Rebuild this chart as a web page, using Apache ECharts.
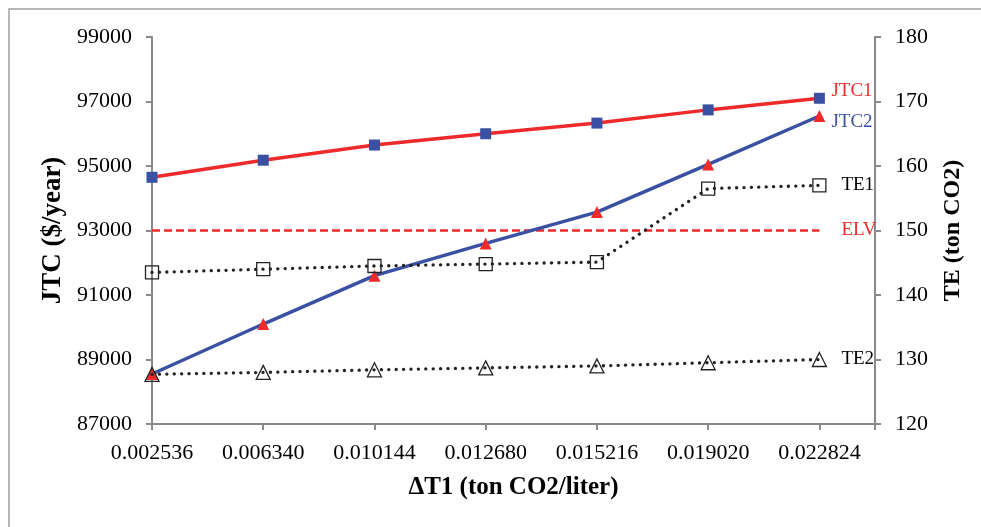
<!DOCTYPE html>
<html>
<head>
<meta charset="utf-8">
<script src="https://cdn.jsdelivr.net/npm/echarts@6/dist/echarts.min.js"></script>
<style>
  html, body { margin: 0; padding: 0; background: #fff; }
  #chart { width: 981px; height: 527px; }
</style>
</head>
<body>
<div id="chart"></div>
<script>
// ΔT1 values along the bottom axis
const categories = ['0.002536', '0.006340', '0.010144', '0.012680', '0.015216', '0.019020', '0.022824'];
// Joint total cost, $/year (left axis)
const jtc1 = [94650, 95180, 95650, 96000, 96330, 96740, 97100];
const jtc2 = [88550, 90100, 91600, 92600, 93570, 95050, 96550];
// Emission limit value, drawn on the left axis scale
const elv = [93000, 93000, 93000, 93000, 93000, 93000, 93000];
// Total emissions, ton CO2 (right axis)
const te1 = [143.5, 144.0, 144.5, 144.8, 145.1, 156.5, 157.0];
const te2 = [127.7, 128.0, 128.4, 128.7, 129.0, 129.5, 130.0];
// Axis ticks
const leftTicks = [87000, 89000, 91000, 93000, 95000, 97000, 99000];
const rightTicks = [120, 130, 140, 150, 160, 170, 180];

const RED = '#ee2a2a';
const BLUE = '#3a50a2';
const FONT = 'Liberation Serif';

const pairs = arr => arr.map((v, i) => [i, v]);

const chart = echarts.init(document.getElementById('chart'), null, { renderer: 'canvas' });

const axisLineStyle = { color: '#8a8a8e', width: 2 };

chart.setOption({
  backgroundColor: '#fff',
  animation: false,
  graphic: [{
    type: 'rect',
    shape: { x: 9, y: 9, width: 990, height: 540 },
    style: { fill: 'none', stroke: '#a0a0a0', lineWidth: 1.5 },
    silent: true
  }],
  grid: { left: 152, right: 106, top: 37, bottom: 103 },
  xAxis: {
    type: 'value',
    min: 0,
    max: categories.length - 0.5,
    interval: 1,
    name: 'ΔT1 (ton CO2/liter)',
    nameLocation: 'middle',
    nameGap: 51,
    nameTextStyle: { fontFamily: FONT, fontSize: 25, fontWeight: 'bold', color: '#000' },
    axisLine: { lineStyle: axisLineStyle },
    axisTick: { show: true, length: 6, lineStyle: axisLineStyle },
    splitLine: { show: false },
    axisLabel: {
      margin: 18,
      fontFamily: FONT, fontSize: 22, color: '#000',
      formatter: v => (Number.isInteger(v) && categories[v] !== undefined) ? categories[v] : ''
    }
  },
  yAxis: [{
    type: 'value',
    min: leftTicks[0],
    max: leftTicks[leftTicks.length - 1],
    interval: leftTicks[1] - leftTicks[0],
    name: 'JTC ($/year)',
    nameLocation: 'middle',
    nameGap: 83,
    nameTextStyle: { fontFamily: FONT, fontSize: 27, fontWeight: 'bold', color: '#000' },
    axisLine: { show: true, lineStyle: axisLineStyle },
    axisTick: { show: true, length: 6, lineStyle: axisLineStyle },
    splitLine: { show: false },
    axisLabel: { margin: 20, fontFamily: FONT, fontSize: 22, color: '#000', formatter: v => String(v) }
  }, {
    type: 'value',
    position: 'right',
    min: rightTicks[0],
    max: rightTicks[rightTicks.length - 1],
    interval: rightTicks[1] - rightTicks[0],
    name: 'TE (ton CO2)',
    nameLocation: 'middle',
    nameGap: 66,
    nameTextStyle: { fontFamily: FONT, fontSize: 24, fontWeight: 'bold', color: '#000' },
    axisLine: { show: true, lineStyle: axisLineStyle },
    axisTick: { show: true, length: 6, lineStyle: axisLineStyle },
    splitLine: { show: false },
    axisLabel: { margin: 20, fontFamily: FONT, fontSize: 22, color: '#000', formatter: v => String(v) }
  }],
  series: [{
    name: 'ELV',
    type: 'line',
    yAxisIndex: 0,
    data: pairs(elv),
    showSymbol: false,
    symbol: 'none',
    lineStyle: { color: RED, width: 2.5, type: [8, 4] },
    endLabel: { show: true, formatter: 'ELV', distance: 22, fontFamily: FONT, fontSize: 19, color: RED },
    z: 2
  }, {
    name: 'JTC1',
    type: 'line',
    yAxisIndex: 0,
    data: pairs(jtc1),
    symbol: 'rect',
    symbolSize: 11,
    itemStyle: { color: BLUE },
    lineStyle: { color: RED, width: 3.5 },
    endLabel: { show: true, formatter: 'JTC1', distance: 12, offset: [0, -7], fontFamily: FONT, fontSize: 19, color: RED },
    z: 3
  }, {
    name: 'JTC2',
    type: 'line',
    yAxisIndex: 0,
    data: pairs(jtc2),
    symbol: 'triangle',
    symbolSize: 12,
    itemStyle: { color: RED },
    lineStyle: { color: BLUE, width: 3.5 },
    endLabel: { show: true, formatter: 'JTC2', distance: 12, offset: [0, 6], fontFamily: FONT, fontSize: 19, color: BLUE },
    z: 3
  }, {
    name: 'TE1',
    type: 'line',
    yAxisIndex: 1,
    data: pairs(te1),
    symbol: 'rect',
    symbolSize: 13,
    itemStyle: { color: 'rgba(0,0,0,0)', borderColor: '#222', borderWidth: 1.3 },
    lineStyle: { color: '#222', width: 3.3, type: [0.1, 7.3], cap: 'round' },
    endLabel: { show: true, formatter: 'TE1', distance: 22, fontFamily: FONT, fontSize: 19, color: '#000' },
    z: 4
  }, {
    name: 'TE2',
    type: 'line',
    yAxisIndex: 1,
    data: pairs(te2),
    symbol: 'triangle',
    symbolSize: 14,
    itemStyle: { color: 'rgba(0,0,0,0)', borderColor: '#222', borderWidth: 1.3 },
    lineStyle: { color: '#222', width: 3.3, type: [0.1, 7.3], cap: 'round' },
    endLabel: { show: true, formatter: 'TE2', distance: 22, fontFamily: FONT, fontSize: 19, color: '#000' },
    z: 4
  }]
});
</script>
</body>
</html>
